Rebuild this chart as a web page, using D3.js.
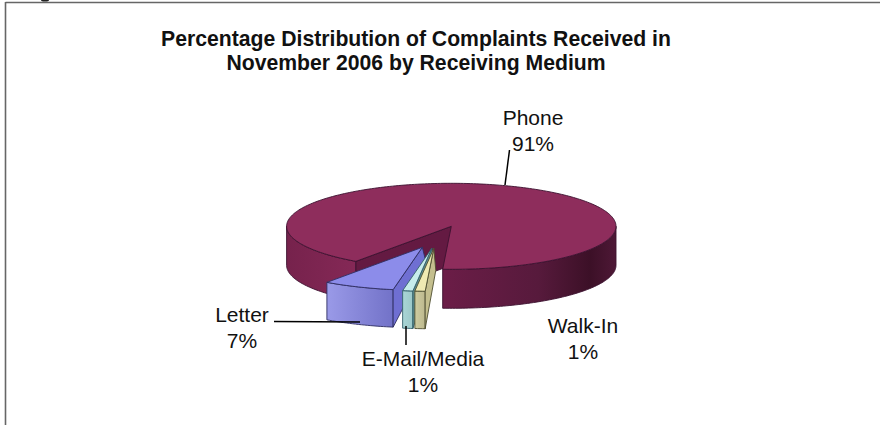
<!DOCTYPE html>
<html>
<head>
<meta charset="utf-8">
<script src="https://cdn.jsdelivr.net/npm/d3@7/dist/d3.min.js"></script>
<style>
  html, body { margin: 0; padding: 0; background: #fff; }
  svg { display: block; }
  text { font-family: "Liberation Sans", Arial, sans-serif; fill: #111; }
</style>
</head>
<body>
<svg id="chart" width="880" height="425"></svg>
<script>
// Complaints by receiving medium, percent of total (clockwise from the first slice)
const categories = ["Walk-In", "E-Mail/Media", "Letter", "Phone"];
const shares = [1, 1, 7, 91];
const titleLines = [
  "Percentage Distribution of Complaints Received in",
  "November 2006 by Receiving Medium"
];

const svg = d3.select("#chart");
const defs = svg.append("defs");

// Tilted-disc geometry
const centre = { x: 451.3, y: 226.3 };
const radiusX = 164.7, radiusY = 43, thickness = 39, sliceThickness = 37.5;
const firstAngle = 183 * Math.PI / 180;

const pieLayout = d3.pie().sort(null).value(d => d)
  .startAngle(firstAngle).endAngle(firstAngle + 2 * Math.PI);
const arcs = pieLayout(shares);

// Radial explosion of each slice, and how far its cut face runs below the tip
const explode = {
  "Walk-In": { dx: -17.5, dy: 22, tipDx: 2, tipDy: 22 },
  "E-Mail/Media": { dx: -19.5, dy: 22, tipDx: 2, tipDy: 18 },
  "Letter": { dx: -29, dy: 21, tipDx: 4, tipDy: 16 },
  "Phone": { dx: 0, dy: 0 }
};

const rimPoint = (a, off = { dx: 0, dy: 0 }, drop = 0) => [
  centre.x + off.dx + radiusX * Math.sin(a),
  centre.y + off.dy - radiusY * Math.cos(a) + drop
];

// Sampled points along the elliptical rim
function rim(a0, a1, off, drop) {
  const n = Math.max(2, Math.ceil(Math.abs(a1 - a0) / 0.02));
  return d3.range(n + 1).map(i => rimPoint(a0 + (a1 - a0) * i / n, off, drop));
}

const polyPath = d3.line();
const closed = pts => polyPath(pts) + "Z";

function hGradient(id, x0, x1, stops) {
  const g = defs.append("linearGradient").attr("id", id)
    .attr("gradientUnits", "userSpaceOnUse")
    .attr("x1", x0).attr("x2", x1).attr("y1", 0).attr("y2", 0);
  stops.forEach(([o, c]) => g.append("stop").attr("offset", o).attr("stop-color", c));
  return `url(#${id})`;
}

const phone = arcs[3], letter = arcs[2], email = arcs[1], walkIn = arcs[0];
const phoneOutline = "#3c1230";
const layer = svg.append("g");

function shape(pts, fill, stroke) {
  layer.append("path").attr("d", closed(pts)).attr("fill", fill)
    .attr("stroke", stroke).attr("stroke-width", 0.9).attr("stroke-linejoin", "round");
}

// Phone: rim walls, the inside wall of the cut-out, then the top face
const noOff = explode.Phone;
const wallStart = phone.startAngle, wallEnd = phone.endAngle;
const halfTurn = Math.PI, fullTurn = 2 * Math.PI;

const leftWallFill = hGradient("wallLeft", radiusX * -1 + centre.x, centre.x - 90,
  [[0, "#76224c"], [1, "#862957"]]);
const rightWallFill = hGradient("wallRight", centre.x - 8, centre.x + radiusX,
  [[0, "#6b1d47"], [0.55, "#571a3c"], [0.85, "#3c1027"], [1, "#4e1836"]]);

// left-hand wall runs from the cut edge round to the far-left extreme
const leftArc = rim(wallStart, 1.5 * Math.PI, noOff, 0);
shape(leftArc.concat(rim(1.5 * Math.PI, wallStart, noOff, thickness)), leftWallFill, phoneOutline);

// right-hand wall runs from the far-right extreme to the other cut edge
const rightArc = rim(fullTurn + halfTurn / 2, wallEnd, noOff, 0);
shape(rightArc.concat(rim(wallEnd, fullTurn + halfTurn / 2, noOff, thickness)), rightWallFill, phoneOutline);

// cut-out wall facing the viewer
const hub = [centre.x, centre.y];
const hubLow = [centre.x, centre.y + thickness];
shape([rimPoint(wallStart), hub, hubLow, rimPoint(wallStart, noOff, thickness)], "#641a42", phoneOutline);

// top face
shape([hub].concat(rim(wallStart, wallEnd, noOff, 0)), "#8e2d5c", phoneOutline);

// Exploded slices: outer wall, cut face, top face
function drawSlice(arc, name, colours, gradId) {
  const off = explode[name];
  const tip = [centre.x + off.dx, centre.y + off.dy];
  const tipLow = [tip[0] + off.tipDx, tip[1] + off.tipDy];
  const a0 = arc.startAngle, a1 = arc.endAngle;
  const top = rim(a0, a1, off, 0);
  const low = rim(a1, a0, off, sliceThickness);
  const frontFill = hGradient(gradId, top[top.length - 1][0], top[0][0], colours.front);
  shape(top.concat(low), frontFill, colours.edge);
  shape([top[0], low[low.length - 1], tipLow, tip], colours.cut, colours.edge);
  shape([tip].concat(top), colours.top, colours.edge);
}

drawSlice(letter, "Letter", {
  front: [[0, "#9a9ae8"], [1, "#7272c8"]], cut: "#6f6fd2", top: "#8c8cea", edge: "#2f2f62"
}, "gradLetter");
drawSlice(email, "E-Mail/Media", {
  front: [[0, "#a9d6d6"], [1, "#9cc8c8"]], cut: "#5f8f90", top: "#c6eceb", edge: "#33606a"
}, "gradEmail");
drawSlice(walkIn, "Walk-In", {
  front: [[0, "#cfcca0"], [1, "#bdb98e"]], cut: "#c4bf8e", top: "#efeab2", edge: "#4e4e30"
}, "gradWalkIn");

// Frame: top and left rules only, plus the tail of the heading above it
const frame = svg.append("g").attr("stroke", "#666").attr("stroke-width", 1.6).attr("fill", "none");
frame.append("line").attr("x1", 5.5).attr("x2", 880).attr("y1", 2.5).attr("y2", 2.5);
frame.append("line").attr("x1", 5.5).attr("x2", 5.5).attr("y1", 2).attr("y2", 425);
svg.append("ellipse").attr("cx", 45).attr("cy", 0).attr("rx", 4).attr("ry", 1.5).attr("fill", "#222");

// Title
svg.append("g").selectAll("text").data(titleLines).join("text")
  .attr("x", 416).attr("y", (d, i) => 46 + i * 24)
  .attr("text-anchor", "middle")
  .attr("font-size", 21.2).attr("font-weight", "bold").attr("fill", "#000")
  .text(d => d);

// Data labels: name on the first line, percentage on the second
const labelSpots = {
  "Phone": { x: 533, y: 125 },
  "Letter": { x: 242, y: 322 },
  "E-Mail/Media": { x: 423, y: 366 },
  "Walk-In": { x: 583, y: 333 }
};
const labels = svg.append("g").attr("font-size", 21).attr("text-anchor", "middle");
categories.forEach((name, i) => {
  const spot = labelSpots[name];
  labels.append("text").attr("x", spot.x).attr("y", spot.y).text(name);
  labels.append("text").attr("x", spot.x).attr("y", spot.y + 26).text(`${shares[i]}%`);
});

// Leader lines
const leaderLinks = [
  [[274, 321.5], [360, 322]],
  [[509.5, 150], [505, 185]],
  [[406, 326], [406, 345]]
];
svg.append("g").selectAll("path").data(leaderLinks).join("path")
  .attr("d", d => polyPath(d)).attr("fill", "none")
  .attr("stroke", "#000").attr("stroke-width", 1.5);
</script>
</body>
</html>
